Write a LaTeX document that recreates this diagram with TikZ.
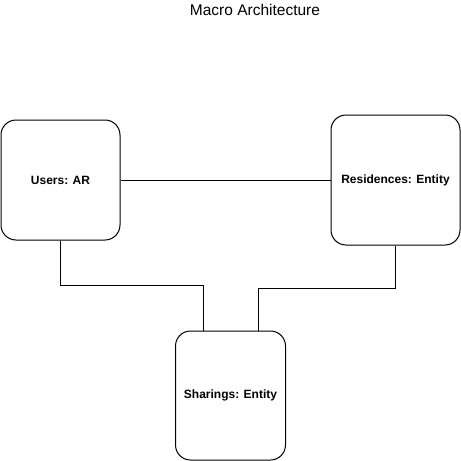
\documentclass[tikz,border=0pt]{standalone}
\usepackage{fontspec}
\setmainfont{Liberation Sans}
\begin{document}
\begin{tikzpicture}[x=1pt,y=-1pt,
  box/.style={draw=black,line width=1pt,rounded corners=15pt,fill=white,inner sep=0pt,
    font=\fontsize{12}{14}\selectfont\bfseries},
  link/.style={draw=black,line width=1pt}]
\useasboundingbox (0,0) rectangle (461,461);
\node (title) at (255,10) {\fontsize{15.5}{18}\selectfont Macro Architecture};
\node[box,minimum width=119pt,minimum height=120pt] (users) at (60.5,180) {Users: AR};
\node[box,minimum width=129pt,minimum height=130pt] (res) at (395.5,180) {Residences: Entity};
\node[box,minimum width=110pt,minimum height=129pt] (shar) at (230.5,395.5) {Sharings: Entity};
\draw[link] (users.east) -- (res.west);
\draw[link] (users.south) -- (60.5,285) -| ([xshift=-27.5pt]shar.north);
\draw[link] (res.south) -- (395.5,288) -| ([xshift=27.5pt]shar.north);
\end{tikzpicture}
\end{document}
